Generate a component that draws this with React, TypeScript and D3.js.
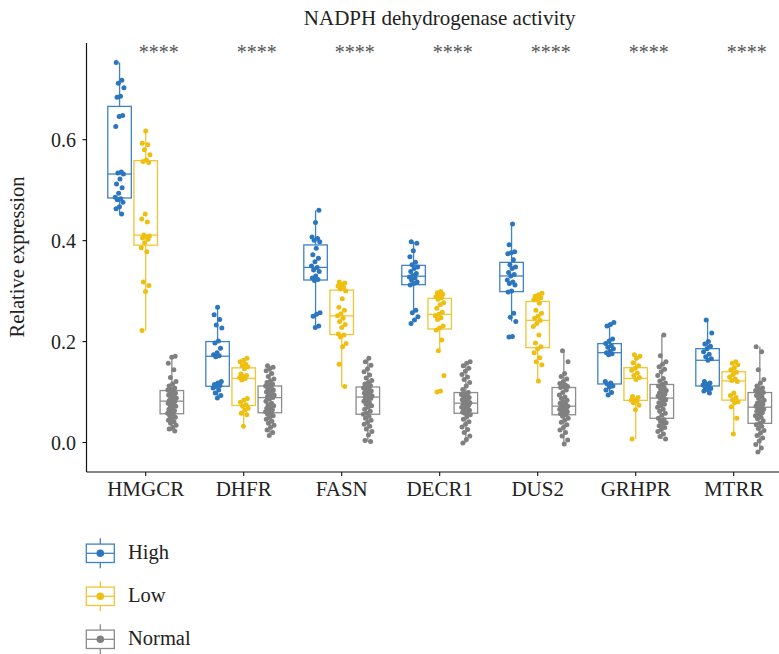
import React from 'react';
import * as d3 from 'd3';

// ---------- data ----------
const categories = ['HMGCR', 'DHFR', 'FASN', 'DECR1', 'DUS2', 'GRHPR', 'MTRR'];
const groups = ['High', 'Low', 'Normal'];
const yTicks = [0, 0.2, 0.4, 0.6];
const stars = ['****', '****', '****', '****', '****', '****', '****'];
const title = 'NADPH dehydrogenase activity';
const yLabel = 'Relative expression';

const HMGCR_High = [0.753, 0.718, 0.712, 0.703, 0.686, 0.684, 0.648, 0.646, 0.626, 0.536, 0.534, 0.532, 0.522, 0.512, 0.505, 0.494, 0.486, 0.483, 0.481, 0.476, 0.467, 0.463, 0.453];
const HMGCR_Low = [0.617, 0.593, 0.590, 0.580, 0.570, 0.560, 0.557, 0.555, 0.453, 0.443, 0.437, 0.411, 0.409, 0.407, 0.405, 0.403, 0.396, 0.386, 0.378, 0.318, 0.311, 0.299, 0.222];
const HMGCR_Normal = [0.171, 0.169, 0.157, 0.144, 0.129, 0.121, 0.116, 0.112, 0.108, 0.105, 0.104, 0.102, 0.100, 0.098, 0.096, 0.094, 0.092, 0.090, 0.088, 0.086, 0.084, 0.082, 0.080, 0.078, 0.076, 0.074, 0.072, 0.069, 0.066, 0.063, 0.060, 0.058, 0.056, 0.053, 0.050, 0.047, 0.044, 0.041, 0.038, 0.034, 0.030, 0.027, 0.023];

const DHFR_High = [0.268, 0.253, 0.244, 0.233, 0.227, 0.201, 0.197, 0.187, 0.178, 0.174, 0.172, 0.170, 0.121, 0.118, 0.115, 0.113, 0.111, 0.108, 0.104, 0.098, 0.093, 0.088];
const DHFR_Low = [0.167, 0.163, 0.160, 0.155, 0.152, 0.150, 0.146, 0.136, 0.133, 0.131, 0.129, 0.127, 0.124, 0.087, 0.084, 0.080, 0.075, 0.072, 0.068, 0.064, 0.058, 0.055, 0.032];
const DHFR_Normal = [0.152, 0.149, 0.146, 0.142, 0.137, 0.131, 0.126, 0.122, 0.119, 0.116, 0.114, 0.112, 0.110, 0.107, 0.104, 0.101, 0.100, 0.098, 0.096, 0.094, 0.092, 0.090, 0.089, 0.086, 0.082, 0.078, 0.075, 0.073, 0.070, 0.068, 0.065, 0.063, 0.061, 0.059, 0.056, 0.053, 0.050, 0.046, 0.042, 0.038, 0.034, 0.030, 0.025, 0.020, 0.014];

const FASN_High = [0.460, 0.436, 0.407, 0.404, 0.401, 0.398, 0.385, 0.372, 0.365, 0.358, 0.350, 0.347, 0.342, 0.339, 0.330, 0.326, 0.323, 0.321, 0.257, 0.254, 0.250, 0.231, 0.228];
const FASN_Low = [0.318, 0.316, 0.313, 0.310, 0.307, 0.304, 0.300, 0.285, 0.268, 0.262, 0.255, 0.251, 0.246, 0.240, 0.234, 0.228, 0.215, 0.213, 0.209, 0.196, 0.190, 0.155, 0.111];
const FASN_Normal = [0.167, 0.160, 0.153, 0.146, 0.140, 0.134, 0.128, 0.123, 0.119, 0.116, 0.113, 0.110, 0.108, 0.106, 0.104, 0.102, 0.100, 0.098, 0.096, 0.094, 0.092, 0.091, 0.090, 0.087, 0.084, 0.082, 0.079, 0.076, 0.073, 0.070, 0.066, 0.062, 0.058, 0.056, 0.052, 0.048, 0.044, 0.040, 0.036, 0.032, 0.027, 0.022, 0.015, 0.004, 0.002];

const DECR1_High = [0.398, 0.395, 0.380, 0.368, 0.357, 0.352, 0.348, 0.345, 0.339, 0.335, 0.331, 0.328, 0.326, 0.322, 0.318, 0.315, 0.312, 0.262, 0.257, 0.249, 0.243, 0.236];
const DECR1_Low = [0.299, 0.297, 0.294, 0.292, 0.289, 0.287, 0.284, 0.277, 0.273, 0.266, 0.258, 0.254, 0.251, 0.247, 0.244, 0.231, 0.227, 0.223, 0.203, 0.182, 0.133, 0.102, 0.100];
const DECR1_Normal = [0.160, 0.157, 0.152, 0.147, 0.141, 0.135, 0.130, 0.125, 0.119, 0.112, 0.105, 0.099, 0.097, 0.095, 0.093, 0.091, 0.089, 0.087, 0.085, 0.083, 0.081, 0.079, 0.078, 0.076, 0.074, 0.072, 0.070, 0.068, 0.066, 0.064, 0.062, 0.060, 0.059, 0.058, 0.055, 0.051, 0.046, 0.041, 0.036, 0.031, 0.026, 0.020, 0.013, 0.006, -0.001];

const DUS2_High = [0.433, 0.392, 0.378, 0.376, 0.374, 0.362, 0.352, 0.348, 0.345, 0.337, 0.333, 0.330, 0.322, 0.318, 0.315, 0.312, 0.300, 0.298, 0.256, 0.248, 0.240, 0.210, 0.209];
const DUS2_Low = [0.296, 0.293, 0.290, 0.287, 0.284, 0.283, 0.276, 0.262, 0.256, 0.250, 0.246, 0.242, 0.236, 0.230, 0.213, 0.197, 0.190, 0.186, 0.178, 0.168, 0.160, 0.154, 0.122];
const DUS2_Normal = [0.182, 0.160, 0.137, 0.131, 0.126, 0.121, 0.117, 0.114, 0.112, 0.111, 0.110, 0.109, 0.104, 0.099, 0.094, 0.090, 0.087, 0.084, 0.081, 0.078, 0.076, 0.074, 0.072, 0.071, 0.070, 0.069, 0.068, 0.066, 0.065, 0.063, 0.061, 0.059, 0.057, 0.055, 0.052, 0.048, 0.044, 0.040, 0.035, 0.030, 0.025, 0.020, 0.013, 0.005, -0.003];

const GRHPR_High = [0.238, 0.234, 0.231, 0.205, 0.201, 0.196, 0.192, 0.189, 0.186, 0.181, 0.178, 0.176, 0.174, 0.121, 0.118, 0.116, 0.112, 0.110, 0.104, 0.099, 0.094];
const GRHPR_Low = [0.174, 0.171, 0.167, 0.158, 0.152, 0.147, 0.143, 0.138, 0.133, 0.129, 0.125, 0.091, 0.089, 0.085, 0.084, 0.082, 0.079, 0.074, 0.065, 0.007];
const GRHPR_Normal = [0.213, 0.172, 0.160, 0.155, 0.150, 0.145, 0.140, 0.133, 0.127, 0.122, 0.118, 0.115, 0.112, 0.109, 0.106, 0.103, 0.100, 0.098, 0.096, 0.094, 0.092, 0.090, 0.088, 0.085, 0.082, 0.079, 0.076, 0.073, 0.070, 0.066, 0.062, 0.058, 0.054, 0.048, 0.045, 0.042, 0.039, 0.036, 0.033, 0.030, 0.026, 0.022, 0.017, 0.012, 0.007];

const MTRR_High = [0.243, 0.217, 0.200, 0.195, 0.191, 0.186, 0.180, 0.175, 0.170, 0.166, 0.163, 0.121, 0.118, 0.116, 0.114, 0.112, 0.109, 0.107, 0.105, 0.102, 0.098];
const MTRR_Low = [0.160, 0.157, 0.154, 0.148, 0.144, 0.139, 0.135, 0.130, 0.126, 0.123, 0.121, 0.098, 0.093, 0.089, 0.085, 0.081, 0.079, 0.071, 0.048, 0.017];
const MTRR_Normal = [0.190, 0.180, 0.144, 0.125, 0.118, 0.112, 0.108, 0.105, 0.103, 0.101, 0.100, 0.099, 0.096, 0.093, 0.090, 0.087, 0.084, 0.081, 0.078, 0.076, 0.074, 0.072, 0.070, 0.068, 0.066, 0.064, 0.062, 0.059, 0.056, 0.053, 0.050, 0.047, 0.043, 0.038, 0.035, 0.032, 0.028, 0.024, 0.019, 0.014, 0.009, 0.003, -0.004, -0.011, -0.019];

const seriesByCategory: number[][][] = [
  [HMGCR_High, HMGCR_Low, HMGCR_Normal],
  [DHFR_High, DHFR_Low, DHFR_Normal],
  [FASN_High, FASN_Low, FASN_Normal],
  [DECR1_High, DECR1_Low, DECR1_Normal],
  [DUS2_High, DUS2_Low, DUS2_Normal],
  [GRHPR_High, GRHPR_Low, GRHPR_Normal],
  [MTRR_High, MTRR_Low, MTRR_Normal],
];

// ---------- styles ----------
const W = 779;
const H = 654;
const pointColors = ['#2C76C0', '#EFBF10', '#808080'];
const boxColors = ['#3F82C6', '#F1C535', '#8C8C8C'];
const FONT = "'Liberation Serif', 'Times New Roman', serif";

function boxStats(vals: number[]) {
  const s = [...vals].sort(d3.ascending);
  const q1 = d3.quantile(s, 0.25)!;
  const med = d3.quantile(s, 0.5)!;
  const q3 = d3.quantile(s, 0.75)!;
  const iqr = q3 - q1;
  const lo = d3.min(s.filter((v) => v >= q1 - 1.5 * iqr))!;
  const hi = d3.max(s.filter((v) => v <= q3 + 1.5 * iqr))!;
  return { q1, med, q3, lo, hi };
}

// deterministic jitter offset (position only)
const jitter = (i: number, g: number) => (((i * 0.618034 + g * 0.37 + 0.13) % 1) - 0.5) * 9;

export default function App() {
  const x = d3.scalePoint<string>().domain(categories).range([86.9, 792.5]).padding(0.6);
  const dodge = d3.scaleBand<string>().domain(groups).range([-39.2, 39.2]);
  const y = d3.scaleLinear().domain([-0.0584, 0.7916]).range([472, 43]);
  const boxW = dodge.bandwidth() * 0.9;
  const fmt = d3.format('.1f');
  const plotLeft = 86.5;
  const plotBottom = 472;

  const legendY = [553.3, 596.3, 639.3];

  return (
    <svg width={W} height={H} style={{ position: 'absolute', left: 0, top: 0, background: '#fff' }} fontFamily={FONT}>
      <rect x={0} y={0} width={W} height={H} fill="#fff" />
      {/* title */}
      <text x={439.7} y={25} textAnchor="middle" fontSize={21} fill="#222">{title}</text>

      {/* boxes and points */}
      {categories.map((cat, ci) => (
        <g key={cat}>
          {groups.map((g, gi) => {
            const vals = seriesByCategory[ci][gi];
            const st = boxStats(vals);
            const cx = (x(cat) as number) + (dodge(g) as number) + dodge.bandwidth() / 2;
            const col = boxColors[gi];
            return (
              <g key={g}>
                <line x1={cx} x2={cx} y1={y(st.q3)} y2={y(st.hi)} stroke={col} strokeWidth={1.3} />
                <line x1={cx} x2={cx} y1={y(st.q1)} y2={y(st.lo)} stroke={col} strokeWidth={1.3} />
                <rect x={cx - boxW / 2} y={y(st.q3)} width={boxW} height={y(st.q1) - y(st.q3)} fill="none" stroke={col} strokeWidth={1.3} />
                <line x1={cx - boxW / 2} x2={cx + boxW / 2} y1={y(st.med)} y2={y(st.med)} stroke={col} strokeWidth={1.3} />
                {vals.map((v, i) => (
                  <circle key={i} cx={cx + jitter(i, gi + ci)} cy={y(v)} r={2.5} fill={pointColors[gi]} />
                ))}
              </g>
            );
          })}
          <text x={(x(cat) as number) + 13} y={59} textAnchor="middle" fontSize={20} fill="#555">{stars[ci]}</text>
        </g>
      ))}

      {/* axes */}
      <line x1={plotLeft} x2={plotLeft} y1={43} y2={plotBottom} stroke="#111" strokeWidth={1.2} />
      <line x1={plotLeft} x2={W} y1={plotBottom} y2={plotBottom} stroke="#111" strokeWidth={1.2} />
      {yTicks.map((t) => (
        <g key={t}>
          <line x1={plotLeft - 4} x2={plotLeft} y1={y(t)} y2={y(t)} stroke="#111" strokeWidth={1.1} />
          <text x={76} y={y(t)} dy="0.35em" textAnchor="end" fontSize={20} fill="#222">{fmt(t)}</text>
        </g>
      ))}
      {categories.map((cat) => (
        <g key={cat}>
          <line x1={x(cat)} x2={x(cat)} y1={plotBottom} y2={plotBottom + 4} stroke="#111" strokeWidth={1.1} />
          <text x={x(cat)} y={496} textAnchor="middle" fontSize={21} fill="#222">{cat}</text>
        </g>
      ))}
      <text transform={`translate(24,257) rotate(-90)`} textAnchor="middle" fontSize={20.5} fill="#222">{yLabel}</text>

      {/* legend */}
      {groups.map((g, gi) => {
        const cy = legendY[gi];
        const col = boxColors[gi];
        return (
          <g key={g}>
            <line x1={100.3} x2={100.3} y1={cy - 15} y2={cy + 15} stroke={col} strokeWidth={1.3} />
            <rect x={86.3} y={cy - 9.2} width={28} height={18.4} fill="#fff" stroke={col} strokeWidth={1.3} />
            <line x1={86.3} x2={114.3} y1={cy} y2={cy} stroke={col} strokeWidth={1.3} />
            <circle cx={100.3} cy={cy} r={3.8} fill={pointColors[gi]} />
            <text x={128} y={cy + 6} fontSize={20.5} fill="#222">{g}</text>
          </g>
        );
      })}
    </svg>
  );
}
